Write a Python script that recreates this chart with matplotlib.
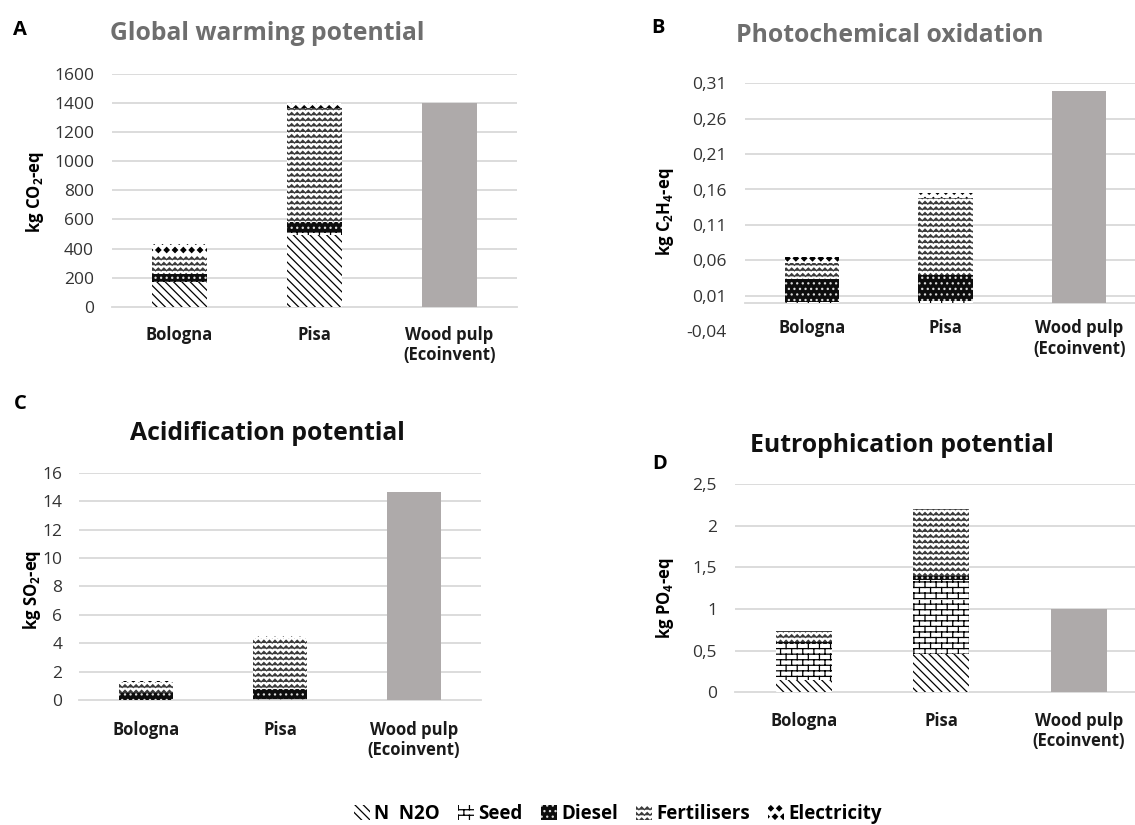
import warnings
warnings.filterwarnings('ignore')
import numpy as np
import matplotlib
matplotlib.use('Agg')
import matplotlib.pyplot as plt
import matplotlib.hatch as mhatch
from matplotlib.path import Path
from matplotlib.patches import Patch

# ---------------- data ----------------
categories = ['Bologna', 'Pisa', 'Wood pulp\n(Ecoinvent)']
series_names = ['N  N2O', 'Seed', 'Diesel', 'Fertilisers', 'Electricity']

# Global warming potential (kg CO2-eq)
gwp_n2o = [172, 493, 0]
gwp_seed = [4, 22, 0]
gwp_diesel = [46, 69, 0]
gwp_fert = [135, 780, 0]
gwp_elec = [72, 40, 0]
gwp_wood = [0, 0, 1400]

# Photochemical oxidation (kg C2H4-eq)
pocp_n2o = [0.0, 0.0, 0.0]
pocp_seed = [0.001, 0.003, 0.0]
pocp_diesel = [0.032, 0.036, 0.0]
pocp_fert = [0.0236, 0.1083, 0.0]
pocp_elec = [0.0077, 0.0071, 0.0]
pocp_wood = [0.0, 0.0, 0.299]

# Acidification potential (kg SO2-eq)
ap_n2o = [0.0, 0.0, 0.0]
ap_seed = [0.02, 0.04, 0.0]
ap_diesel = [0.49, 0.71, 0.0]
ap_fert = [0.73, 3.60, 0.0]
ap_elec = [0.10, 0.18, 0.0]
ap_wood = [0.0, 0.0, 14.67]

# Eutrophication potential (kg PO4-eq)
ep_n2o = [0.15, 0.46, 0.0]
ep_seed = [0.43, 0.89, 0.0]
ep_diesel = [0.02, 0.04, 0.0]
ep_fert = [0.14, 0.81, 0.0]
ep_elec = [0.0, 0.0, 0.0]
ep_wood = [0.0, 0.0, 1.0]

gwp_ticks = [0, 200, 400, 600, 800, 1000, 1200, 1400, 1600]
gwp_ticklabels = ['0', '200', '400', '600', '800', '1000', '1200', '1400', '1600']
pocp_ticks = [-0.04, 0.01, 0.06, 0.11, 0.16, 0.21, 0.26, 0.31]
pocp_ticklabels = ['-0,04', '0,01', '0,06', '0,11', '0,16', '0,21', '0,26', '0,31']
ap_ticks = [0, 2, 4, 6, 8, 10, 12, 14, 16]
ap_ticklabels = ['0', '2', '4', '6', '8', '10', '12', '14', '16']
ep_ticks = [0, 0.5, 1, 1.5, 2, 2.5]
ep_ticklabels = ['0', '0,5', '1', '1,5', '2', '2,5']


# ---------------- custom hatches ----------------
class WaveHatch(mhatch.HatchPatternBase):
    def __init__(self, hatch, density):
        n = hatch.count('~')
        self.num_rows = int(n * density)
        self.teeth = int(n * density)
        self.num_vertices = self.num_rows * (2 * self.teeth + 1) if self.num_rows else 0

    def set_vertices_and_codes(self, vertices, codes):
        step = 1.0 / self.num_rows
        amp = step * 0.25
        m = 2 * self.teeth + 1
        xs = np.linspace(0, 1, m)
        offs = np.where(np.arange(m) % 2 == 0, -amp, amp)
        k = 0
        for r in range(self.num_rows):
            y = (r + 0.5) * step
            vertices[k:k + m, 0] = xs
            vertices[k:k + m, 1] = y + offs
            codes[k] = Path.MOVETO
            codes[k + 1:k + m] = Path.LINETO
            k += m


class BrickHatch(mhatch.HatchPatternBase):
    def __init__(self, hatch, density):
        n = hatch.count('b')
        rows = int(n * density)
        if rows % 2:
            rows += 1
        self.num_rows = rows
        self.cols = max(rows // 2, 1)
        self.num_vertices = rows * (2 + 2 * self.cols) if rows else 0

    def set_vertices_and_codes(self, vertices, codes):
        step = 1.0 / self.num_rows
        k = 0
        for r in range(self.num_rows):
            y0 = (r + 0.25) * step
            y1 = (r + 1.25) * step
            vertices[k] = (0, y0)
            vertices[k + 1] = (1, y0)
            codes[k] = Path.MOVETO
            codes[k + 1] = Path.LINETO
            k += 2
            for c in range(self.cols):
                x = (c + 0.5 * (r % 2) + 0.25) / self.cols
                vertices[k] = (x, y0)
                vertices[k + 1] = (x, y1)
                codes[k] = Path.MOVETO
                codes[k + 1] = Path.LINETO
                k += 2


class DiamondHatch(mhatch.Shapes):
    filled = True
    size = 0.3

    def __init__(self, hatch, density):
        self.num_rows = int(hatch.count('d') * density)
        p = Path.unit_regular_polygon(4)
        self.shape_vertices = p.vertices
        self.shape_codes = p.codes
        super().__init__(hatch, density)


mhatch._hatch_types.extend([WaveHatch, BrickHatch, DiamondHatch])

# ---------------- style ----------------
plt.rcParams['font.family'] = ['Open Sans', 'DejaVu Sans']
plt.rcParams['mathtext.default'] = 'regular'
plt.rcParams['hatch.linewidth'] = 0.9

W, H = 1135, 825
def fx(px):
    return px / W
def fy(py):
    return 1 - py / H
def rect(l, t, r, b):
    return [fx(l), fy(b), (r - l) / W, (b - t) / H]

series_styles = [
    dict(facecolor='white', edgecolor='black', hatch='\\\\\\\\'),
    dict(facecolor='white', edgecolor='black', hatch='bbb'),
    dict(facecolor='#0d0d0d', edgecolor='#dddddd', hatch='...'),
    dict(facecolor='white', edgecolor='#3a3a3a', hatch='~~~'),
    dict(facecolor='white', edgecolor='black', hatch='dd'),
]
wood_color = '#aeaaaa'
grid_color = '#d9d9d9'
gray_title = '#6e6e6e'

panels = [
    dict(letter='A', letter_xy=(20, 30), title='Global warming potential', title_xy=(267, 33),
         title_color=gray_title, ylabel='kg CO$_2$-eq', ylabel_xy=(35, 192),
         series=[gwp_n2o, gwp_seed, gwp_diesel, gwp_fert, gwp_elec], wood=gwp_wood,
         ticks=gwp_ticks, ticklabels=gwp_ticklabels, ylim=(0, 1600),
         rect=rect(112, 74, 517, 306.7), xpad=14, ypad=13, grid_skip=[]),
    dict(letter='B', letter_xy=(658, 28), title='Photochemical oxidation', title_xy=(890, 35),
         title_color=gray_title, ylabel='kg C$_2$H$_4$-eq', ylabel_xy=(665, 212),
         series=[pocp_n2o, pocp_seed, pocp_diesel, pocp_fert, pocp_elec], wood=pocp_wood,
         ticks=pocp_ticks, ticklabels=pocp_ticklabels, ylim=(-0.04, 0.31),
         rect=rect(745, 83.3, 1146, 331.1), xpad=12, ypad=13, grid_skip=[-0.04]),
    dict(letter='C', letter_xy=(20, 404), title='Acidification potential', title_xy=(267, 433),
         title_color='#111111', ylabel='kg SO$_2$-eq', ylabel_xy=(32, 590),
         series=[ap_n2o, ap_seed, ap_diesel, ap_fert, ap_elec], wood=ap_wood,
         ticks=ap_ticks, ticklabels=ap_ticklabels, ylim=(0, 16),
         rect=rect(79, 472.7, 481, 700), xpad=15, ypad=12, grid_skip=[]),
    dict(letter='D', letter_xy=(660, 464), title='Eutrophication potential', title_xy=(902, 445),
         title_color='#111111', ylabel='kg PO$_4$-eq', ylabel_xy=(665, 598),
         series=[ep_n2o, ep_seed, ep_diesel, ep_fert, ep_elec], wood=ep_wood,
         ticks=ep_ticks, ticklabels=ep_ticklabels, ylim=(0, 2.5),
         rect=rect(735, 484, 1147.5, 692.3), xpad=14, ypad=13, grid_skip=[]),
]

fig = plt.figure(figsize=(W / 100, H / 100), dpi=100)
x = np.arange(len(categories))
bw = 0.405

for p in panels:
    ax = fig.add_axes(p['rect'])
    bottom = np.zeros(len(categories))
    for vals, st in zip(p['series'], series_styles):
        v = np.array(vals, dtype=float)
        ax.bar(x, v, bw, bottom=bottom, linewidth=0, zorder=3, **st)
        bottom += v
    ax.bar(x, p['wood'], bw, color=wood_color, linewidth=0, zorder=3)

    ax.set_xlim(-0.5, 2.5)
    ax.set_ylim(*p['ylim'])
    for t in p['ticks']:
        if t in p['grid_skip'] or t == 0:
            continue
        ax.axhline(t, color=grid_color, lw=1.3, zorder=1)
    for s in ['top', 'right', 'left']:
        ax.spines[s].set_visible(False)
    ax.spines['bottom'].set_position(('data', 0))
    ax.spines['bottom'].set_color(grid_color)
    ax.spines['bottom'].set_linewidth(1.3)
    ax.spines['bottom'].set_zorder(2)
    ax.tick_params(axis='x', length=0, pad=p['xpad'], labelsize=12, labelcolor='#1a1a1a')
    ax.tick_params(axis='y', length=0, pad=p['ypad'], labelsize=12.5, labelcolor='#333333')
    ax.set_yticks(p['ticks'])
    ax.set_yticklabels(p['ticklabels'])
    ax.set_xticks(x)
    ax.set_xticklabels(categories)
    for lab in ax.get_xticklabels():
        lab.set_fontweight('bold')
        lab.set_fontsize(12)
        lab.set_linespacing(1.15)
    ax.patch.set_alpha(0)

    fig.text(fx(p['title_xy'][0]), fy(p['title_xy'][1]), p['title'], ha='center', va='center',
             fontsize=17.8, fontweight='bold', color=p['title_color'])
    fig.text(fx(p['letter_xy'][0]), fy(p['letter_xy'][1]), p['letter'], ha='center', va='center',
             fontsize=14.5, fontweight='bold', color='black')
    fig.text(fx(p['ylabel_xy'][0]), fy(p['ylabel_xy'][1]), p['ylabel'], ha='center', va='center',
             rotation=90, fontsize=12, fontweight='bold', color='black')

handles = [Patch(linewidth=0, **st) for st in series_styles]
fig.legend(handles, series_names, loc='center', bbox_to_anchor=(fx(618), fy(814)), ncol=5,
           frameon=False, prop=dict(weight='bold', size=13.5), handlelength=0.85,
           handleheight=0.85, handletextpad=0.25, columnspacing=0.95, borderaxespad=0)

fig.savefig('out.png', dpi=100)
